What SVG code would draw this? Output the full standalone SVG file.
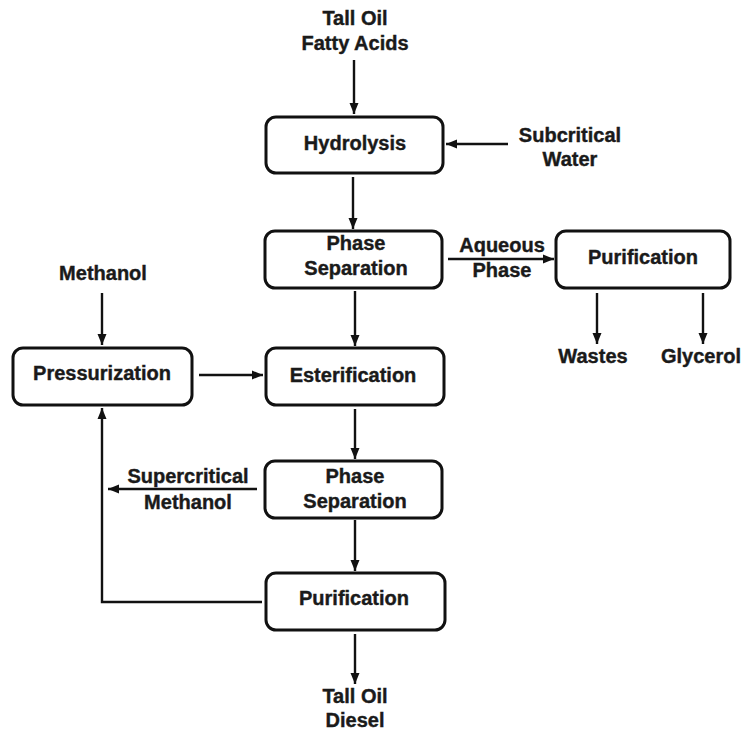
<svg xmlns="http://www.w3.org/2000/svg" width="744" height="733" viewBox="0 0 744 733">
  <style>
    .box { fill: #ffffff; stroke: #111111; stroke-width: 3; }
    .lbl { font-family: "Liberation Sans", Arial, sans-serif; font-weight: bold; font-size: 20px; fill: #1a1a1a; stroke: #1a1a1a; stroke-width: 0.4; text-anchor: middle; }
    .wire { fill: none; stroke: #111111; stroke-width: 2.4; }
  </style>
  <defs>
    <marker id="arrow" markerUnits="userSpaceOnUse" markerWidth="12" markerHeight="12" viewBox="0 0 12 12" refX="11" refY="6" orient="auto">
      <path d="M0,1.5 L11,6 L0,10.5 Z" fill="#111111"/>
    </marker>
  </defs>
  <rect width="744" height="733" fill="#ffffff"/>

  <!-- stream labels -->
  <g id="feed-tofa">
    <text class="lbl" x="355" y="25">Tall Oil</text>
    <text class="lbl" x="355" y="50">Fatty Acids</text>
  </g>
  <g id="feed-water">
    <text class="lbl" x="570" y="142">Subcritical</text>
    <text class="lbl" x="570" y="166">Water</text>
  </g>
  <g id="aqueous-phase">
    <text class="lbl" x="502" y="252">Aqueous</text>
    <text class="lbl" x="502" y="277">Phase</text>
  </g>
  <g id="out-wastes">
    <text class="lbl" x="593" y="363">Wastes</text>
  </g>
  <g id="out-glycerol">
    <text class="lbl" x="701" y="363">Glycerol</text>
  </g>
  <g id="feed-methanol">
    <text class="lbl" x="103" y="280">Methanol</text>
  </g>
  <g id="sc-methanol">
    <text class="lbl" x="188" y="483">Supercritical</text>
    <text class="lbl" x="188" y="509">Methanol</text>
  </g>
  <g id="out-diesel">
    <text class="lbl" x="355" y="703">Tall Oil</text>
    <text class="lbl" x="355" y="727">Diesel</text>
  </g>

  <!-- process units -->
  <g id="hydrolysis">
    <rect class="box" x="266" y="117" width="177" height="56" rx="10"/>
    <text class="lbl" x="355" y="150">Hydrolysis</text>
  </g>
  <g id="phase-sep-1">
    <rect class="box" x="265" y="231" width="177" height="57" rx="10"/>
    <text class="lbl" x="356" y="250">Phase</text>
    <text class="lbl" x="356" y="275">Separation</text>
  </g>
  <g id="purification-aq">
    <rect class="box" x="556" y="231" width="174" height="57" rx="10"/>
    <text class="lbl" x="643" y="264">Purification</text>
  </g>
  <g id="pressurization">
    <rect class="box" x="13" y="348" width="179" height="57" rx="10"/>
    <text class="lbl" x="102" y="380">Pressurization</text>
  </g>
  <g id="esterification">
    <rect class="box" x="266" y="348" width="178" height="57" rx="10"/>
    <text class="lbl" x="353" y="382">Esterification</text>
  </g>
  <g id="phase-sep-2">
    <rect class="box" x="265" y="461" width="177" height="57" rx="10"/>
    <text class="lbl" x="355" y="483">Phase</text>
    <text class="lbl" x="355" y="508">Separation</text>
  </g>
  <g id="purification-ester">
    <rect class="box" x="266" y="573" width="179" height="57" rx="10"/>
    <text class="lbl" x="354" y="605">Purification</text>
  </g>

  <!-- connectors -->
  <g id="connectors">
    <line class="wire" x1="354" y1="60" x2="354" y2="114" marker-end="url(#arrow)"/>
    <line class="wire" x1="508" y1="144" x2="446" y2="144" marker-end="url(#arrow)"/>
    <line class="wire" x1="353" y1="177" x2="353" y2="229" marker-end="url(#arrow)"/>
    <line class="wire" x1="448" y1="259" x2="554" y2="259" marker-end="url(#arrow)"/>
    <line class="wire" x1="597" y1="293" x2="597" y2="344" marker-end="url(#arrow)"/>
    <line class="wire" x1="703" y1="293" x2="703" y2="344" marker-end="url(#arrow)"/>
    <line class="wire" x1="355" y1="291" x2="355" y2="346" marker-end="url(#arrow)"/>
    <line class="wire" x1="102" y1="293" x2="102" y2="345" marker-end="url(#arrow)"/>
    <line class="wire" x1="199" y1="375" x2="263" y2="375" marker-end="url(#arrow)"/>
    <line class="wire" x1="355" y1="409" x2="355" y2="459" marker-end="url(#arrow)"/>
    <line class="wire" x1="257" y1="489" x2="108" y2="489" marker-end="url(#arrow)"/>
    <line class="wire" x1="355" y1="520" x2="355" y2="571" marker-end="url(#arrow)"/>
    <line class="wire" x1="355" y1="634" x2="355" y2="684" marker-end="url(#arrow)"/>
    <polyline class="wire" points="262,602 102,602 102,408" marker-end="url(#arrow)"/>
  </g>
</svg>
